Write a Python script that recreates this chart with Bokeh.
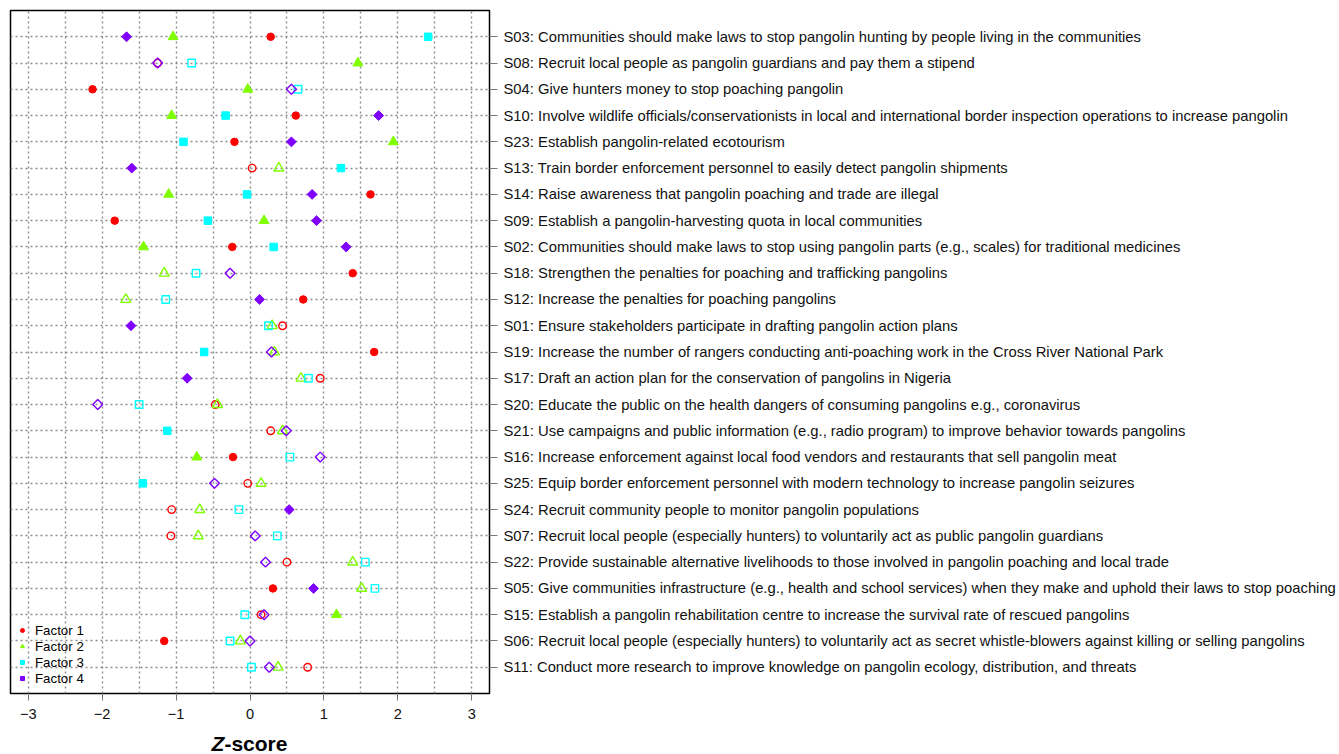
from bokeh.plotting import figure
from bokeh.models import Range1d, FixedTicker, Legend, LegendItem, ColumnDataSource, Div
from bokeh.layouts import column
from bokeh.embed import file_html
from bokeh.resources import INLINE
import math

# Statements, top to bottom
statements = [
    "S03: Communities should make laws to stop pangolin hunting by people living in the communities",
    "S08: Recruit local people as pangolin guardians and pay them a stipend",
    "S04: Give hunters money to stop poaching pangolin",
    "S10: Involve wildlife officials/conservationists in local and international border inspection operations to increase pangolin",
    "S23: Establish pangolin-related ecotourism",
    "S13: Train border enforcement personnel to easily detect pangolin shipments",
    "S14: Raise awareness that pangolin poaching and trade are illegal",
    "S09: Establish a pangolin-harvesting quota in local communities",
    "S02: Communities should make laws to stop using pangolin parts (e.g., scales) for traditional medicines",
    "S18: Strengthen the penalties for poaching and trafficking pangolins",
    "S12: Increase the penalties for poaching pangolins",
    "S01: Ensure stakeholders participate in drafting pangolin action plans",
    "S19: Increase the number of rangers conducting anti-poaching work in the Cross River National Park",
    "S17: Draft an action plan for the conservation of pangolins in Nigeria",
    "S20: Educate the public on the health dangers of consuming pangolins e.g., coronavirus",
    "S21: Use campaigns and public information (e.g., radio program) to improve behavior towards pangolins",
    "S16: Increase enforcement against local food vendors and restaurants that sell pangolin meat",
    "S25: Equip border enforcement personnel with modern technology to increase pangolin seizures",
    "S24: Recruit community people to monitor pangolin populations",
    "S07: Recruit local people (especially hunters) to voluntarily act as public pangolin guardians",
    "S22: Provide sustainable alternative livelihoods to those involved in pangolin poaching and local trade",
    "S05: Give communities infrastructure (e.g., health and school services) when they make and uphold their laws to stop poaching",
    "S15: Establish a pangolin rehabilitation centre to increase the survival rate of rescued pangolins",
    "S06: Recruit local people (especially hunters) to voluntarily act as secret whistle-blowers against killing or selling pangolins",
    "S11: Conduct more research to improve knowledge on pangolin ecology, distribution, and threats",
]

# Z-scores per factor (same order as statements); *_sig: 1 = filled (distinguishing), 0 = open
f1 = [0.28, -1.25, -2.13, 0.62, -0.21, 0.03, 1.63, -1.83, -0.24, 1.39, 0.72, 0.44, 1.68,
      0.95, -0.47, 0.28, -0.23, -0.03, -1.06, -1.07, 0.50, 0.31, 0.15, -1.16, 0.78]
f1_sig = [1, 0, 1, 1, 1, 0, 1, 1, 1, 1, 1, 0, 1, 0, 0, 0, 1, 0, 0, 0, 0, 1, 0, 1, 0]

f2 = [-1.04, 1.46, -0.03, -1.06, 1.94, 0.39, -1.10, 0.19, -1.44, -1.16, -1.68, 0.30, 0.33,
      0.69, -0.44, 0.44, -0.72, 0.15, -0.68, -0.70, 1.39, 1.51, 1.17, -0.13, 0.38]
f2_sig = [1, 1, 1, 1, 1, 0, 1, 1, 1, 0, 0, 0, 0, 0, 0, 0, 1, 0, 0, 0, 0, 0, 1, 0, 0]

f3 = [2.41, -0.79, 0.65, -0.33, -0.90, 1.23, -0.04, -0.57, 0.32, -0.73, -1.14, 0.25, -0.62,
      0.79, -1.50, -1.12, 0.54, -1.45, -0.15, 0.37, 1.56, 1.69, -0.07, -0.27, 0.02]
f3_sig = [1, 0, 0, 1, 1, 1, 1, 1, 1, 0, 0, 0, 1, 0, 0, 1, 0, 1, 0, 0, 0, 0, 0, 0, 0]

f4 = [-1.67, -1.25, 0.56, 1.74, 0.56, -1.60, 0.84, 0.90, 1.30, -0.27, 0.13, -1.61, 0.29,
      -0.85, -2.06, 0.49, 0.95, -0.48, 0.53, 0.07, 0.21, 0.86, 0.19, 0.00, 0.26]
f4_sig = [1, 0, 0, 1, 1, 1, 1, 1, 1, 0, 1, 1, 0, 1, 0, 0, 0, 0, 1, 0, 0, 1, 0, 0, 0]

x_ticks = [-3, -2, -1, 0, 1, 2, 3]
x_tick_labels = ["\u22123", "\u22122", "\u22121", "0", "1", "2", "3"]
factor_names = ["Factor 1", "Factor 2", "Factor 3", "Factor 4"]

FONT = "Liberation Sans"
n = len(statements)
rows = list(range(n, 0, -1))

p = figure(width=1339, height=730, output_backend="svg", toolbar_location=None,
           x_range=Range1d(-3.24, 3.24), y_range=Range1d(0, 26),
           y_axis_location="right",
           min_border_left=10, min_border_top=10, min_border_bottom=37, min_border_right=850)
p.background_fill_color = "white"
p.border_fill_color = "white"
p.outline_line_color = "black"
p.outline_line_width = 1.5

# bottom axis
p.xaxis.ticker = FixedTicker(ticks=x_ticks)
p.xaxis.major_label_overrides = {t: l for t, l in zip(x_ticks, x_tick_labels)}
p.xaxis.axis_line_color = None
p.xaxis.major_tick_out = 7
p.xaxis.major_tick_in = 0
p.xaxis.major_tick_line_color = "#777777"
p.xaxis.minor_tick_line_color = None
p.xaxis.major_label_standoff = 8
p.xaxis.major_label_text_font = FONT
p.xaxis.major_label_text_font_size = "14.6px"
p.xaxis.major_label_text_color = "#111111"

# right axis with statements
p.yaxis.ticker = FixedTicker(ticks=rows)
p.yaxis.major_label_overrides = {r: s for r, s in zip(rows, statements)}
p.yaxis.axis_line_color = None
p.yaxis.major_tick_out = 8
p.yaxis.major_tick_in = 0
p.yaxis.major_tick_line_color = "#777777"
p.yaxis.minor_tick_line_color = None
p.yaxis.major_label_standoff = 6
p.yaxis.major_label_text_font = FONT
p.yaxis.major_label_text_font_size = "14.8px"
p.yaxis.major_label_text_color = "#111111"

# grids
p.xgrid.ticker = FixedTicker(ticks=[-3 + 0.5 * i for i in range(13)])
p.ygrid.ticker = FixedTicker(ticks=rows)
for g in (p.xgrid, p.ygrid):
    g.grid_line_color = "#8c8c8c"
    g.grid_line_dash = "2 3"
    g.grid_line_width = 1.4

colors = ["#ff0000", "#7fff00", "#00ffff", "#7f00ff"]
markers = ["circle", "triangle", "square", "square"]
angles = [0, 0, 0, math.pi / 4]
sizes = [7.5, 10, 7.5, 7]
legend_sizes = [5.5, 8, 6, 5.5]

factors = [(f1, f1_sig), (f2, f2_sig), (f3, f3_sig), (f4, f4_sig)]
for i, (vals, sig) in enumerate(factors):
    fx = [v for v, s in zip(vals, sig) if s]
    fy = [r for r, s in zip(rows, sig) if s]
    ox = [v for v, s in zip(vals, sig) if not s]
    oy = [r for r, s in zip(rows, sig) if not s]
    p.scatter(fx, fy, marker=markers[i], size=sizes[i], angle=angles[i],
              fill_color=colors[i], line_color=colors[i], line_width=1)
    p.scatter(ox, oy, marker=markers[i], size=sizes[i], angle=angles[i],
              fill_color=None, line_color=colors[i], line_width=1.4)

# legend proxies (one point far outside the visible range, only used for the legend glyph)
items = []
for i in range(4):
    src = ColumnDataSource(dict(x=[100.0], y=[100.0]))
    r = p.scatter("x", "y", source=src, marker=markers[i], size=legend_sizes[i], angle=angles[i],
                  fill_color=colors[i], line_color=colors[i])
    items.append(LegendItem(label=factor_names[i], renderers=[r]))

legend = Legend(items=items, location="bottom_left")
legend.background_fill_alpha = 0
legend.border_line_color = None
legend.label_text_font = FONT
legend.label_text_font_size = "13.3px"
legend.label_text_color = "black"
legend.label_height = 16
legend.glyph_height = 16
legend.glyph_width = 10
legend.label_standoff = 8
legend.spacing = 0
legend.padding = 5
legend.margin = 7
p.add_layout(legend)

xlabel = Div(text="<span style='font-weight:bold'><i>Z</i>-score</span>",
             width=499, height=24, margin=0,
             styles={"font-family": FONT, "font-size": "21px", "text-align": "center",
                     "line-height": "27px", "color": "black"})

open("out.html", "w").write(file_html(column(p, xlabel), INLINE))
